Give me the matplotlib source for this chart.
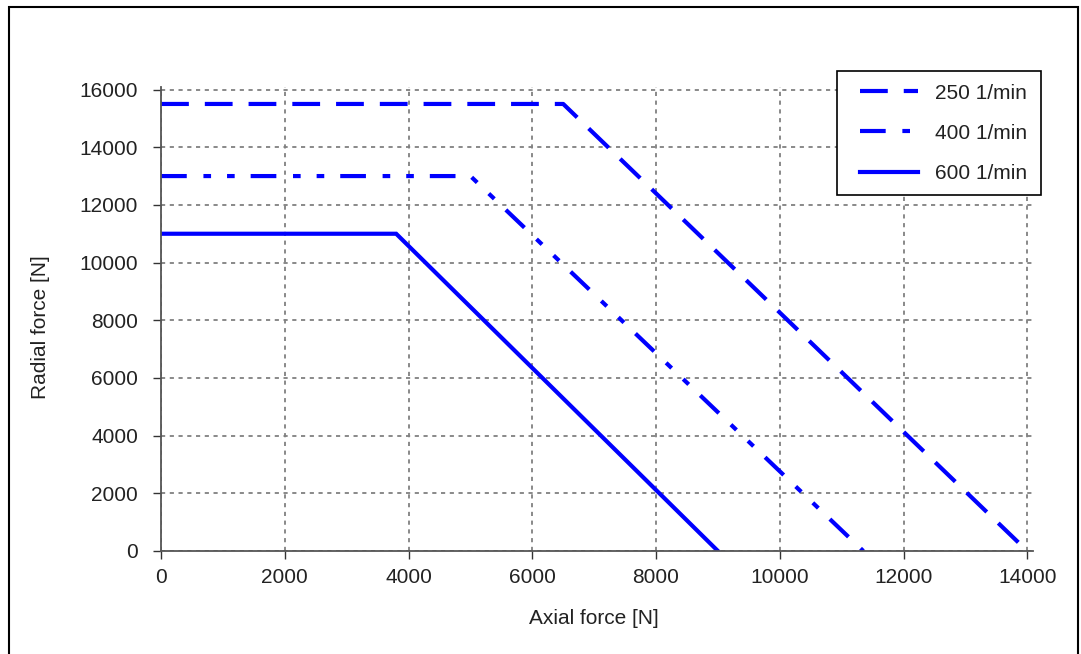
import numpy as np
import matplotlib.pyplot as plt
import matplotlib.patches as patches

plt.rcParams['font.family'] = ['Liberation Sans', 'DejaVu Sans']
plt.rcParams['lines.scale_dashes'] = False

# curve data: axial force [N] vs radial force [N]
labels = ['250 1/min', '400 1/min', '600 1/min']
axial_250 = [0, 6500, 14000]
radial_250 = [15500, 15500, 0]
axial_400 = [0, 5000, 11350]
radial_400 = [13000, 13000, 0]
axial_600 = [0, 3800, 9000]
radial_600 = [11000, 11000, 0]

x_ticks = [0, 2000, 4000, 6000, 8000, 10000, 12000, 14000]
y_ticks = [0, 2000, 4000, 6000, 8000, 10000, 12000, 14000, 16000]

fig = plt.figure(figsize=(10.81, 6.54), dpi=100)
ax = fig.add_axes([0.149, 0.1575, 0.807, 0.71])

# outer frame round the whole picture
fig.patches.append(patches.Rectangle((0.008, -0.01), 0.989, 0.9995,
                                     transform=fig.transFigure, fill=False,
                                     edgecolor='black', linewidth=1.5))

blue = '#0000ff'
lw = 3.0
ax.plot(axial_250, radial_250, color=blue, lw=lw, linestyle=(0, (20, 11.5)),
        label=labels[0], solid_joinstyle='miter')
ax.plot(axial_400, radial_400, color=blue, lw=lw,
        linestyle=(0, (18.5, 12, 5.5, 11.5, 5.5, 11.5)), label=labels[1])
ax.plot(axial_600, radial_600, color=blue, lw=lw, linestyle='-',
        label=labels[2], solid_joinstyle='miter')

ax.set_xlim(0, 14100)
ax.set_ylim(0, 16100)
ax.set_xticks(x_ticks)
ax.set_yticks(y_ticks)
ax.tick_params(direction='out', length=5.5, width=1, color='#333333',
               labelsize=15, labelcolor='#222222')
ax.tick_params(axis='y', pad=11)
ax.tick_params(axis='x', pad=7)

ax.grid(True, color='#808080', linestyle=(0, (3, 3.3)), linewidth=1.3)

for s in ['top', 'right']:
    ax.spines[s].set_visible(False)
for s in ['left', 'bottom']:
    ax.spines[s].set_color('#555555')
    ax.spines[s].set_linewidth(1.3)

ax.set_xlabel('Axial force [N]', fontsize=15, color='#222222')
ax.set_ylabel('Radial force [N]', fontsize=15, color='#222222')
ax.xaxis.set_label_coords(0.496, -0.125)
ax.yaxis.set_label_coords(-0.127, 0.483)

# legend without its own frame, box drawn separately (wider left margin)
leg = ax.legend(loc='upper left', bbox_to_anchor=(0.784, 0.8914),
                bbox_transform=fig.transFigure, fontsize=15, handlelength=2.8,
                labelspacing=1.02, borderpad=0.6, handletextpad=0.8,
                borderaxespad=0, frameon=False)
for t in leg.get_texts():
    t.set_color('#222222')
box = patches.Rectangle((0.7743, 0.7018), 0.1887, 0.1896,
                        transform=fig.transFigure, fill=True,
                        facecolor='white', edgecolor='black',
                        linewidth=1.2, zorder=4, clip_on=False)
ax.add_patch(box)
leg.set_zorder(6)

fig.savefig('out.png', dpi=100)
